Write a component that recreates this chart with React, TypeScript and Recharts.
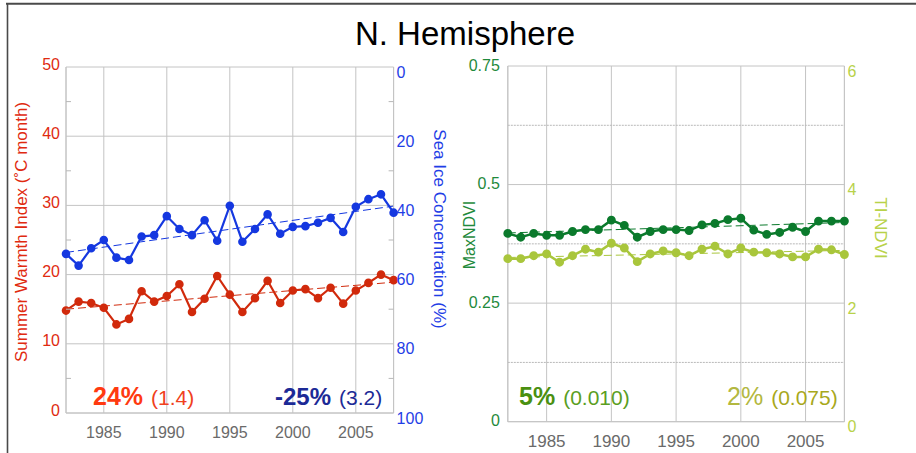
import React from "react";
import { LineChart, Line, XAxis, YAxis, CartesianGrid, ReferenceLine } from "recharts";

const years = [
  1982, 1983, 1984, 1985, 1986, 1987, 1988, 1989, 1990, 1991, 1992, 1993, 1994, 1995,
  1996, 1997, 1998, 1999, 2000, 2001, 2002, 2003, 2004, 2005, 2006, 2007, 2008,
];
const warmth = [
  14.8, 16.1, 15.9, 15.2, 12.8, 13.6, 17.6, 16.1, 16.9, 18.6, 14.6, 16.5, 19.8, 17.1,
  14.6, 16.6, 19.1, 15.9, 17.7, 17.9, 16.6, 18.1, 15.8, 17.7, 18.8, 20.0, 19.2,
];
const seaIce = [
  54.0, 57.4, 52.4, 50.0, 55.1, 55.8, 49.0, 48.6, 43.1, 46.8, 48.6, 44.3, 50.2, 40.1,
  50.5, 46.8, 42.6, 48.2, 46.2, 46.0, 45.0, 43.6, 47.7, 40.4, 38.2, 36.8, 42.1,
];
const maxNdvi = [
  0.397, 0.389, 0.397, 0.393, 0.393, 0.401, 0.405, 0.405, 0.425, 0.414, 0.389, 0.401, 0.405, 0.405,
  0.403, 0.415, 0.418, 0.426, 0.429, 0.404, 0.395, 0.399, 0.41, 0.401, 0.423, 0.423, 0.423,
];
const tiNdvi = [
  2.75, 2.75, 2.8, 2.83, 2.69, 2.8, 2.91, 2.86, 3.01, 2.93, 2.7, 2.83, 2.88, 2.85,
  2.8, 2.91, 2.96, 2.83, 2.93, 2.86, 2.85, 2.83, 2.78, 2.78, 2.91, 2.9, 2.82,
];
// trend end points (first year, last year)
const warmthTrend = [15.0, 18.9];
const iceTrend = [53.6, 40.2];
const maxTrend = [0.398, 0.42];
const tiTrend = [2.77, 2.89];

const yearTicks = [1985, 1990, 1995, 2000, 2005];
const warmthTicks = [0, 5, 10, 15, 20, 25, 30, 35, 40, 45, 50];
const warmthMajor = [0, 10, 20, 30, 40, 50];
const iceTicks = [0, 10, 20, 30, 40, 50, 60, 70, 80, 90, 100];
const iceMajor = [0, 20, 40, 60, 80, 100];
const ndviTicks = [0, 0.25, 0.5, 0.75];
const ndviMinor = [0.125, 0.375, 0.625];
const tiTicks = [0, 2, 4, 6];

const last = years.length - 1;
const fit = (pair: number[], i: number) => (i === 0 ? pair[0] : i === last ? pair[1] : null);

const leftData = years.map((year, i) => ({
  year,
  warmth: warmth[i],
  ice: seaIce[i],
  warmthFit: fit(warmthTrend, i),
  iceFit: fit(iceTrend, i),
}));
const rightData = years.map((year, i) => ({
  year,
  maxNdvi: maxNdvi[i],
  tiNdvi: tiNdvi[i],
  maxFit: fit(maxTrend, i),
  tiFit: fit(tiTrend, i),
}));

const GRID = "#c4c4c4";
const RED = "#d12a0c";
const BLUE = "#1538e0";
const DKGREEN = "#0b7a2c";
const LTGREEN = "#a9c63c";

function AxisTick(props: any) {
  const { x, y, payload, side, major, color, fontSize, shift, edgeGap } = props;
  if (!major.includes(payload.value)) {
    const edge = side === "left" ? x + edgeGap : x - edgeGap;
    const dir = side === "left" ? 1 : -1;
    return <line x1={edge} x2={edge + dir * 5} y1={y} y2={y} stroke="#b8b8b8" />;
  }
  return (
    <text
      x={x}
      y={y + shift}
      dy="0.355em"
      textAnchor={side === "left" ? "end" : "start"}
      fill={color}
      fontSize={fontSize}
    >
      {payload.value}
    </text>
  );
}

const xTick = { fill: "#6a6a6a", fontSize: 16 };

export default function App() {
  return (
    <div
      style={{
        position: "absolute",
        left: 0,
        top: 0,
        width: 916,
        height: 453,
        background: "#fff",
        fontFamily: "'Liberation Sans', Arial, sans-serif",
        overflow: "hidden",
      }}
    >
      <div style={{ position: "absolute", left: 0, top: 0 }}>
        <LineChart width={460} height={453} data={leftData} margin={{ top: 67, right: 0, bottom: 10, left: 0 }}>
          <CartesianGrid stroke={GRID} yAxisId="warmth" horizontalValues={warmthMajor} />
          <XAxis
            dataKey="year"
            type="number"
            domain={[1982, 2008]}
            ticks={yearTicks}
            height={30}
            tickLine={false}
            tickSize={6}
            tickMargin={8}
            axisLine={{ stroke: GRID }}
            tick={xTick}
          />
          <YAxis
            yAxisId="warmth"
            type="number"
            domain={[0, 50]}
            ticks={warmthTicks}
            width={66}
            tickLine={false}
            tickSize={4}
            tickMargin={2}
            axisLine={{ stroke: GRID }}
            tick={<AxisTick side="left" major={warmthMajor} color="#e02a10" fontSize={16} shift={-3} edgeGap={6} />}
          />
          <YAxis
            yAxisId="ice"
            orientation="right"
            type="number"
            domain={[0, 100]}
            reversed
            ticks={iceTicks}
            width={66.4}
            tickLine={false}
            tickSize={2}
            tickMargin={1}
            axisLine={{ stroke: GRID }}
            tick={<AxisTick side="right" major={iceMajor} color="#1f3ee6" fontSize={16} shift={5} edgeGap={3} />}
          />
          <Line yAxisId="warmth" dataKey="warmthFit" stroke={RED} strokeWidth={1} strokeDasharray="8 4" dot={false} connectNulls isAnimationActive={false} />
          <Line yAxisId="ice" dataKey="iceFit" stroke={BLUE} strokeWidth={1} strokeDasharray="8 4" dot={false} connectNulls isAnimationActive={false} />
          <Line yAxisId="warmth" dataKey="warmth" stroke={RED} strokeWidth={2.2} dot={{ r: 3.2, fill: RED, stroke: RED }} activeDot={false} isAnimationActive={false} />
          <Line yAxisId="ice" dataKey="ice" stroke={BLUE} strokeWidth={2.2} dot={{ r: 3.2, fill: BLUE, stroke: BLUE }} activeDot={false} isAnimationActive={false} />
        </LineChart>
      </div>

      <div style={{ position: "absolute", left: 460, top: 0 }}>
        <LineChart width={456} height={453} data={rightData} margin={{ top: 66, right: 0, bottom: 1, left: 0 }}>
          <CartesianGrid stroke={GRID} yAxisId="max" />
          {ndviMinor.map((v) => (
            <ReferenceLine key={v} yAxisId="max" y={v} stroke="#b8b8b8" strokeDasharray="2 1" />
          ))}
          <XAxis
            dataKey="year"
            type="number"
            domain={[1982, 2008]}
            ticks={yearTicks}
            height={30.3}
            tickLine={false}
            tickSize={6}
            tickMargin={7}
            axisLine={{ stroke: GRID }}
            tick={{ ...xTick, fontSize: 17 }}
          />
          <YAxis
            yAxisId="max"
            type="number"
            domain={[0, 0.75]}
            ticks={ndviTicks}
            width={47.8}
            tickLine={false}
            tickSize={4}
            tickMargin={4}
            axisLine={{ stroke: GRID }}
            tick={{ fill: "#1f8a3c", fontSize: 16, dy: -1 }}
          />
          <YAxis
            yAxisId="ti"
            orientation="right"
            type="number"
            domain={[0, 6]}
            ticks={tiTicks}
            width={71.6}
            tickLine={false}
            tickSize={2}
            tickMargin={1}
            axisLine={{ stroke: GRID }}
            tick={{ fill: "#b8d24a", fontSize: 16, dy: 5 }}
          />
          <Line yAxisId="max" dataKey="maxFit" stroke={DKGREEN} strokeWidth={1} strokeDasharray="8 4" dot={false} connectNulls isAnimationActive={false} />
          <Line yAxisId="ti" dataKey="tiFit" stroke={LTGREEN} strokeWidth={1} strokeDasharray="8 4" dot={false} connectNulls isAnimationActive={false} />
          <Line yAxisId="max" dataKey="maxNdvi" stroke={DKGREEN} strokeWidth={2.5} dot={{ r: 3.2, fill: DKGREEN, stroke: DKGREEN }} activeDot={false} isAnimationActive={false} />
          <Line yAxisId="ti" dataKey="tiNdvi" stroke={LTGREEN} strokeWidth={2.5} dot={{ r: 3.2, fill: LTGREEN, stroke: LTGREEN }} activeDot={false} isAnimationActive={false} />
        </LineChart>
      </div>

      <svg width={916} height={453} style={{ position: "absolute", left: 0, top: 0, pointerEvents: "none" }}>
        <line x1={6} y1={3.7} x2={916} y2={3.7} stroke="#4a4a4a" strokeWidth={2} />
        <line x1={7.5} y1={3} x2={7.5} y2={453} stroke="#4a4a4a" strokeWidth={1.6} />
        <text x={465} y={45} textAnchor="middle" fontSize={33} fill="#000">
          N. Hemisphere
        </text>

        <text transform="translate(21,232) rotate(-90)" textAnchor="middle" dominantBaseline="central" fontSize={17} fill="#e02a10">
          Summer Warmth Index (˚C month)
        </text>
        <text transform="translate(439,229) rotate(90)" textAnchor="middle" dominantBaseline="central" fontSize={17} fill="#1f3ee6">
          Sea Ice Concentration (%)
        </text>
        <text transform="translate(469,235) rotate(-90)" textAnchor="middle" dominantBaseline="central" fontSize={16} fill="#1f8a3c">
          MaxNDVI
        </text>
        <text transform="translate(880,228) rotate(90)" textAnchor="middle" dominantBaseline="central" fontSize={17} fill="#b8d24a">
          TI-NDVI
        </text>

        <text x={93} y={405}>
          <tspan fontSize={25} fontWeight="bold" fill="#ff3a10">24%</tspan>
          <tspan dx={8} fontSize={21} fill="#f04020">(1.4)</tspan>
        </text>
        <text x={275} y={405}>
          <tspan fontSize={24} fontWeight="bold" fill="#1c2a96">-25%</tspan>
          <tspan dx={8} fontSize={21} fill="#1c2a96">(3.2)</tspan>
        </text>
        <text x={519} y={405}>
          <tspan fontSize={25} fontWeight="bold" fill="#4a9010">5%</tspan>
          <tspan dx={8} fontSize={21} fill="#5a9e22">(0.010)</tspan>
        </text>
        <text x={727} y={405}>
          <tspan fontSize={25} fill="#b3b840">2%</tspan>
          <tspan dx={8} fontSize={21} fill="#a8a81c">(0.075)</tspan>
        </text>
      </svg>
    </div>
  );
}
